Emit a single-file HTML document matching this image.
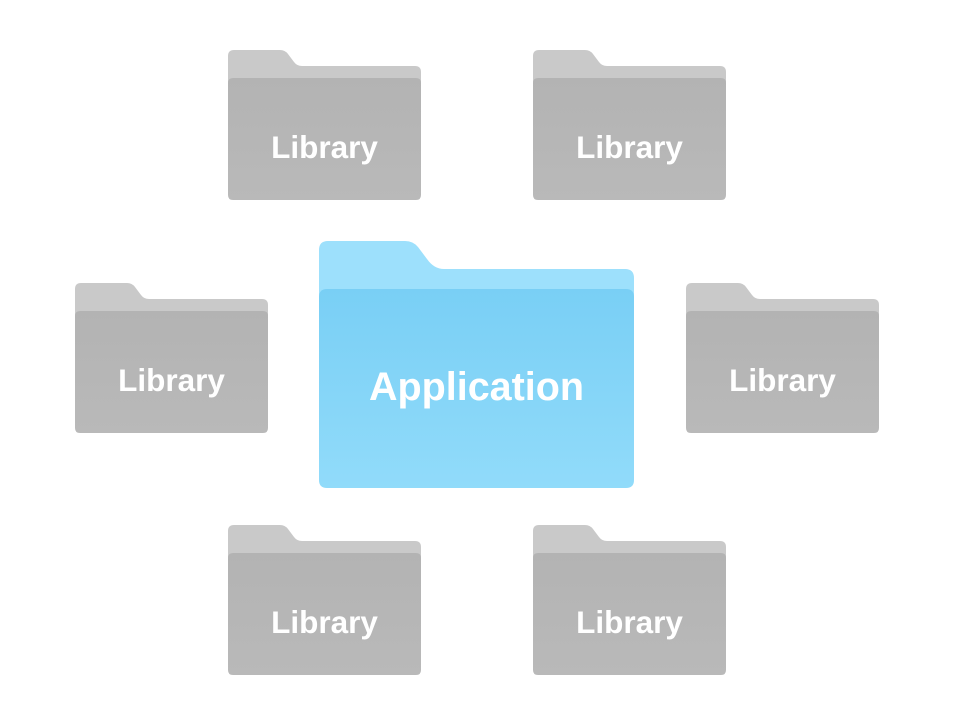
<!DOCTYPE html>
<html><head><meta charset="utf-8"><style>
html,body{margin:0;padding:0;background:#fff;width:960px;height:720px;overflow:hidden}
svg{display:block}
text{font-family:"Liberation Sans",Arial,sans-serif;font-weight:bold;fill:#fff;text-anchor:middle}
</style></head><body>
<svg width="960" height="720" viewBox="0 0 960 720" xmlns="http://www.w3.org/2000/svg">
<defs>
<linearGradient id="gf" x1="0" y1="0" x2="0" y2="1">
<stop offset="0" stop-color="#b3b3b3"/><stop offset="1" stop-color="#b9b9b9"/></linearGradient>
<linearGradient id="bf" x1="0" y1="0" x2="0" y2="1">
<stop offset="0" stop-color="#79cff5"/><stop offset="1" stop-color="#91dbfa"/></linearGradient>
<g id="lib">
<path d="M0,6 Q0,0 6,0 L52,0 Q57,0 60,4 L66,12 Q69,16 74,16 L187,16 Q193,16 193,22 L193,40 L0,40 Z" fill="#c9c9c9"/>
<path d="M0,33 Q0,28 5,28 L188,28 Q193,28 193,33 L193,145 Q193,150 188,150 L5,150 Q0,150 0,145 Z" fill="url(#gf)"/>
</g>
</defs>
<g transform="translate(228,50)"><use href="#lib"/><text x="96.5" y="108" font-size="31.5">Library</text></g>
<g transform="translate(533,50)"><use href="#lib"/><text x="96.5" y="108" font-size="31.5">Library</text></g>
<g transform="translate(75,283)"><use href="#lib"/><text x="96.5" y="108" font-size="31.5">Library</text></g>
<g transform="translate(686,283)"><use href="#lib"/><text x="96.5" y="108" font-size="31.5">Library</text></g>
<g transform="translate(228,525)"><use href="#lib"/><text x="96.5" y="108" font-size="31.5">Library</text></g>
<g transform="translate(533,525)"><use href="#lib"/><text x="96.5" y="108" font-size="31.5">Library</text></g>
<g transform="translate(319,241)">
<path d="M0,9 Q0,0 9,0 L86,0 Q94,0 99,6 L108,18 Q115,28 125,28 L306,28 Q315,28 315,37 L315,70 L0,70 Z" fill="#9de0fc"/>
<path d="M0,56 Q0,48 8,48 L307,48 Q315,48 315,56 L315,239 Q315,247 307,247 L8,247 Q0,247 0,239 Z" fill="url(#bf)"/>
<text x="157.5" y="159" font-size="39.5">Application</text>
</g>
</svg>
</body></html>
